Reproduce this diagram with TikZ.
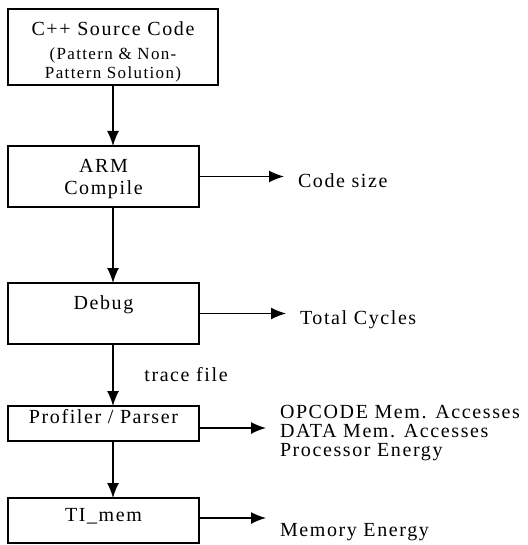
\documentclass[tikz,border=0pt]{standalone}
\usepackage{fontspec}
\setmainfont{Liberation Serif}[LetterSpace=8]
\usetikzlibrary{positioning,arrows.meta}
\newcommand{\smallfnt}{\fontsize{8.5}{9.5}\selectfont}

\begin{document}
\begin{tikzpicture}[
   font=\fontsize{10}{11}\selectfont,
   line width=0.7pt,
   box/.style={draw,minimum width=95.5pt,inner xsep=2pt,inner ysep=0pt,outer sep=0pt,align=center},
   result/.style={anchor=west,inner sep=0pt,outer sep=0pt,align=left},
   feed/.style={->,shorten >=7pt},
   >={Latex[length=7.5pt,width=6pt]},
]
\useasboundingbox (0,0) rectangle (263.5pt,-272.5pt);

% tool chain
\node[box,minimum width=105pt,minimum height=38pt,anchor=north west] (src) at (4pt,-4.5pt)
        {\rule{0pt}{11.5pt}C++ Source Code\\[1pt]{\smallfnt (Pattern \& Non-}\\[-1.5pt]{\smallfnt Pattern Solution)}};
\node[box,minimum height=30.5pt,below=30.5pt of src.south west,anchor=north west] (arm)
        {\rule{0pt}{9.5pt}ARM\\Compile};
\node[box,minimum height=30.5pt,text height=13.3pt,text depth=17.2pt,
      below=38pt of arm.south west,anchor=north west] (dbg) {Debug};
\node[box,minimum height=17.5pt,text height=8.8pt,text depth=8.7pt,
      below=31pt of dbg.south west,anchor=north west] (prof) {Profiler / Parser};
\node[box,minimum height=22.5pt,text height=11.8pt,text depth=10.7pt,
      below=28.5pt of prof.south west,anchor=north west] (ti) {TI\_mem};

% results
\node[result,right=49.5pt of arm.east,yshift=-2.25pt] (size) {Code size};
\node[result,right=50.5pt of dbg.east,yshift=-3pt] (cyc) {Total Cycles};
\node[result,right=40.5pt of prof.east,yshift=-5pt,font=\fontsize{10}{9.5}\selectfont] (stats)
        {OPCODE Mem. Accesses\\DATA Mem. Accesses\\Processor Energy};
\node[result,right=40.5pt of ti.east,yshift=-6pt] (mem) {Memory Energy};

% flow
\draw[->] (src) -- (src.south |- arm.north);
\draw[->] (src.south |- arm.south) -- (src.south |- dbg.north);
\draw[->] (src.south |- dbg.south) -- (src.south |- prof.north) node[midway,right=12pt] {trace file};
\draw[->] (src.south |- prof.south) -- (src.south |- ti.north);

\draw[feed] (arm.east) -- (arm.east -| size.west);
\draw[feed] (dbg.east) -- (dbg.east -| cyc.west);
\draw[feed] ([yshift=-2.25pt]prof.east) -- ([yshift=-2.25pt]prof.east -| stats.west);
\draw[feed] ([yshift=1.25pt]ti.east) -- ([yshift=1.25pt]ti.east -| mem.west);

\end{tikzpicture}
\end{document}
